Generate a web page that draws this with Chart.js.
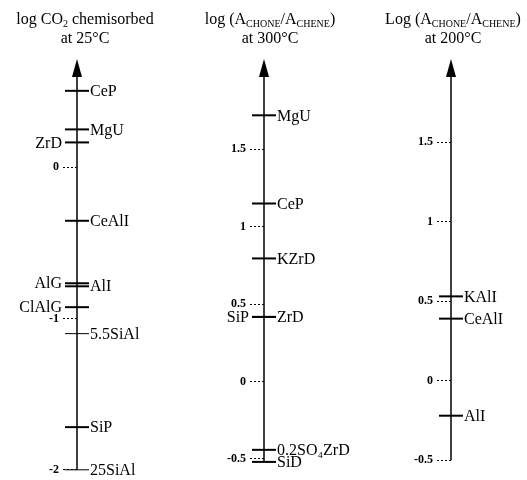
<!DOCTYPE html>
<html>
<head>
<meta charset="utf-8">
<script src="https://cdn.jsdelivr.net/npm/chart.js@4.4.0/dist/chart.umd.min.js"></script>
<style>
  body { margin: 0; background: #fff; }
  .wrap { position: relative; width: 527px; height: 480px; }
  canvas { position: absolute; left: 0; top: 0; }
  .title {
    position: absolute; top: 9px; width: 190px; text-align: center;
    font-family: "Liberation Serif", serif; font-size: 16px; line-height: 19px; color: #000;
  }
  .title sub { font-size: 10px; vertical-align: -3px; line-height: 0; }
</style>
</head>
<body>
<div class="wrap">
  <canvas id="axesChart" width="527" height="480"></canvas>
  <div class="title" style="left: -10px">log CO<sub>2</sub> chemisorbed<br>at 25°C</div>
  <div class="title" style="left: 175px">log (A<sub>CHONE</sub>/A<sub>CHENE</sub>)<br>at 300°C</div>
  <div class="title" style="left: 358px">Log (A<sub>CHONE</sub>/A<sub>CHENE</sub>)<br>at 200°C</div>
</div>
<script>
const axisKeys = ['co2', 'a300', 'a200'];

// log CO2 chemisorbed at 25°C
const co2Names = ['CeP', 'MgU', 'ZrD', 'CeAlI', 'AlG', 'AlI', 'ClAlG', '5.5SiAl', 'SiP', '25SiAl'];
const co2Values = [0.505, 0.25, 0.164, -0.354, -0.767, -0.787, -0.925, -1.10, -1.718, -2.0];
const co2Ticks = [0, -1, -2];

// log(Achone/Achene) at 300°C
const a300Names = ['MgU', 'CeP', 'KZrD', 'ZrD', 'SiP', '0.2SO₄ZrD', 'SiD'];
const a300Values = [1.72, 1.15, 0.795, 0.417, 0.417, -0.442, -0.52];
const a300Ticks = [1.5, 1, 0.5, 0, -0.5];

// log(Achone/Achene) at 200°C
const a200Names = ['KAlI', 'CeAlI', 'AlI'];
const a200Values = [0.53, 0.39, -0.22];
const a200Ticks = [1.5, 1, 0.5, 0, -0.5];

const nameSets = [co2Names, a300Names, a200Names];
const valueSets = [co2Values, a300Values, a200Values];
const tickSets = [co2Ticks, a300Ticks, a200Ticks];
const yIds = ['y1', 'y2', 'y3'];

// labels written on the left side of their axis
const leftLabels = [['ZrD', 'AlG', 'ClAlG'], ['SiP'], []];
const faint = ['5.5SiAl', '25SiAl'];

const serif = '"Liberation Serif", "Times New Roman", serif';

const datasets = axisKeys.map((key, i) => ({
  label: key,
  data: valueSets[i].map(v => ({ x: key, y: v })),
  yAxisID: yIds[i],
  pointStyle: 'line',
  pointRadius: 12,
  pointHoverRadius: 12,
  borderColor: '#000',
  pointBorderWidth: ctx => faint.includes(nameSets[i][ctx.dataIndex]) ? 1 : 2,
  clip: false
}));

function yAxis(i, min, max) {
  return {
    type: 'linear',
    min: min,
    max: max,
    position: { x: axisKeys[i] },
    afterBuildTicks: s => { s.ticks = tickSets[i].map(v => ({ value: v })); },
    border: { display: false },
    grid: {
      drawOnChartArea: false,
      drawTicks: true,
      tickLength: 15,
      tickBorderDash: [2, 2],
      color: '#000',
      lineWidth: 1
    },
    ticks: {
      color: '#000',
      font: { family: serif, weight: 'bold', size: 12 },
      // labels sit at the axis line, so pad them past the dotted tick
      callback: v => String(v) + '\u2003\u2002'
    }
  };
}

const axisPlugin = {
  id: 'axisPlugin',
  beforeDatasetsDraw(chart) {
    const ctx = chart.ctx;
    const top = chart.chartArea.top;
    ctx.save();
    ctx.strokeStyle = '#000';
    ctx.fillStyle = '#000';
    ctx.lineWidth = 1.5;
    axisKeys.forEach((key, i) => {
      const x = chart.scales.x.getPixelForValue(key);
      const low = Math.min(...tickSets[i], ...valueSets[i]);
      const bottom = chart.scales[yIds[i]].getPixelForValue(low);
      ctx.beginPath();
      ctx.moveTo(x, top);
      ctx.lineTo(x, bottom);
      ctx.stroke();
      ctx.beginPath();
      ctx.moveTo(x, top - 17);
      ctx.lineTo(x - 5, top + 1);
      ctx.lineTo(x + 5, top + 1);
      ctx.closePath();
      ctx.fill();
    });
    ctx.restore();
  },
  afterDatasetsDraw(chart) {
    const ctx = chart.ctx;
    ctx.save();
    ctx.fillStyle = '#000';
    ctx.font = '16px ' + serif;
    ctx.textBaseline = 'middle';
    chart.data.datasets.forEach((ds, i) => {
      chart.getDatasetMeta(i).data.forEach((pt, j) => {
        const name = nameSets[i][j];
        if (leftLabels[i].includes(name)) {
          ctx.textAlign = 'right';
          ctx.fillText(name, pt.x - 15, pt.y + 1);
        } else {
          ctx.textAlign = 'left';
          ctx.fillText(name, pt.x + 13, pt.y + 1);
        }
      });
    });
    ctx.restore();
  }
};

new Chart(document.getElementById('axesChart'), {
  type: 'scatter',
  data: { datasets: datasets },
  options: {
    responsive: false,
    animation: false,
    layout: { autoPadding: false, padding: { left: 77, right: 76, top: 76, bottom: 7 } },
    plugins: { legend: { display: false }, tooltip: { enabled: false } },
    scales: {
      x: { type: 'category', labels: axisKeys, offset: false, display: false },
      y1: yAxis(0, -2.0, 0.603),
      y2: yAxis(1, -0.571, 1.974),
      y3: yAxis(2, -0.56, 1.915)
    }
  },
  plugins: [axisPlugin]
});
</script>
</body>
</html>
